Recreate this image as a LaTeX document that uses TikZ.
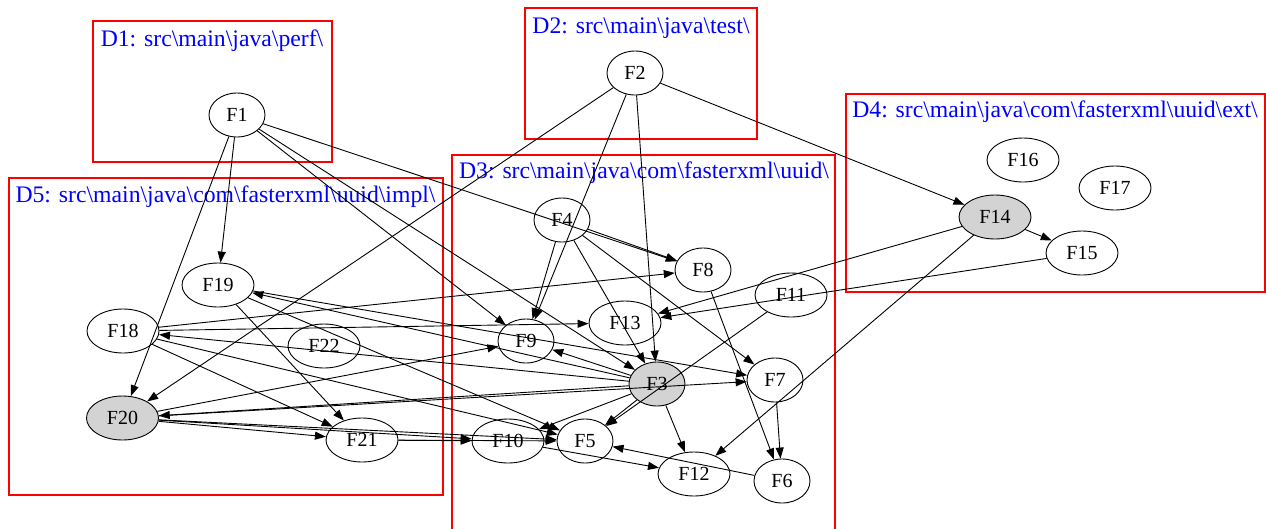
\documentclass[tikz,border=0pt]{standalone}
\usepackage{fontspec}
\setmainfont{Liberation Serif}
\usetikzlibrary{shapes.geometric,arrows.meta}
\definecolor{hubgray}{HTML}{D3D3D3}
\tikzset{
  file/.style={ellipse, draw, line width=0.9pt, inner sep=0pt, minimum height=44pt,
               font=\fontsize{20}{20}\selectfont},
  short/.style={file, minimum width=56pt},
  long/.style={file, minimum width=72pt},
  hub/.style={fill=hubgray},
  dirbox/.style={draw=red, line width=2pt},
  dirlabel/.style={text=blue, anchor=base, inner sep=0pt, font=\fontsize{23.7}{24}\selectfont},
  dep/.style={-{Triangle[length=11pt,width=8pt]}, line width=0.9pt}
}
\begin{document}
\begin{tikzpicture}[x=1pt,y=-1pt]
\useasboundingbox (0,0) rectangle (1266,528);

% directory boxes
\draw[dirbox] (92.7,21) rectangle (331.7,162);
\draw[dirbox] (525,8) rectangle (757,139);
\draw[dirbox] (452,154.5) rectangle (835,545);
\draw[dirbox] (845.5,94) rectangle (1265,292);
\draw[dirbox] (8.5,177.5) rectangle (442.5,494.5);

\node[dirlabel] (d1) at (212,46) {D1: src\textbackslash main\textbackslash java\textbackslash perf\textbackslash};
\node[dirlabel] (d2) at (641,33) {D2: src\textbackslash main\textbackslash java\textbackslash test\textbackslash};
\node[dirlabel] (d3) at (644,178) {D3: src\textbackslash main\textbackslash java\textbackslash com\textbackslash fasterxml\textbackslash uuid\textbackslash};
\node[dirlabel] (d4) at (1055,117) {D4: src\textbackslash main\textbackslash java\textbackslash com\textbackslash fasterxml\textbackslash uuid\textbackslash ext\textbackslash};
\node[dirlabel] (d5) at (225.5,202) {D5: src\textbackslash main\textbackslash java\textbackslash com\textbackslash fasterxml\textbackslash uuid\textbackslash impl\textbackslash};

% files
\node[short] (F1) at (237,115) {F1};
\node[short] (F2) at (635,73) {F2};
\node[short] (F4) at (562,220) {F4};
\node[short] (F8) at (703,270) {F8};
\node[long]  (F11) at (791,295) {F11};
\node[long]  (F13) at (625,323) {F13};
\node[short] (F9) at (526,341) {F9};
\node[short,hub] (F3) at (657,384) {F3};
\node[short] (F7) at (775,380) {F7};
\node[long]  (F10) at (508,441) {F10};
\node[short] (F5) at (585,441) {F5};
\node[long]  (F12) at (694,474) {F12};
\node[short] (F6) at (782,481) {F6};
\node[long,hub] (F14) at (995,217) {F14};
\node[long]  (F15) at (1082,253) {F15};
\node[long]  (F16) at (1023,160) {F16};
\node[long]  (F17) at (1115,188) {F17};
\node[long]  (F19) at (218,285) {F19};
\node[long]  (F18) at (123,331) {F18};
\node[long]  (F22) at (324,346) {F22};
\node[long,hub] (F20) at (122.5,418) {F20};
\node[long]  (F21) at (362,440) {F21};

% dependencies
\draw[dep] (F1) -- (F20);
\draw[dep] (F1) -- (F19);
\draw[dep] (F1) -- (F9);
\draw[dep] (F1) -- (F3);
\draw[dep] (F1) -- (F8);

\draw[dep] (F2) -- (F20);
\draw[dep] (F2) -- (F9);
\draw[dep] (F2) -- (F3);
\draw[dep] (F2) -- (F14);

\draw[dep] (F4) -- (F9);
\draw[dep] (F4) -- (F8);
\draw[dep] (F4) -- (F3);
\draw[dep] (F4) -- (F7);

\draw[dep] (F3) -- (F9);
\draw[dep] (F3) -- (F19);
\draw[dep] (F3) -- (F18);
\draw[dep] (F3) -- (F20);
\draw[dep] (F3) -- (F10);
\draw[dep] (F3) -- (F5);
\draw[dep] (F3) -- (F12);

\draw[dep] (F18) -- (F8);
\draw[dep] (F18) -- (F13);
\draw[dep] (F18) -- (F21);
\draw[dep] (F18) -- (F5);

\draw[dep] (F19) -- (F21);
\draw[dep] (F19) -- (F7);
\draw[dep] (F19) -- (F5);

\draw[dep] (F20) -- (F9);
\draw[dep] (F20) -- (F7);
\draw[dep] (F20) -- (F21);
\draw[dep] (F20) -- (F10);
\draw[dep] (F20) -- (F5);

\draw[dep] (F21) -- (F10);
\draw[dep] (F21) -- (F5);

\draw[dep] (F10) -- (F12);
\draw[dep] (F11) -- (F5);
\draw[dep] (F8) -- (F6);
\draw[dep] (F7) -- (F6);
\draw[dep] (F6) -- (F5);

\draw[dep] (F14) -- (F15);
\draw[dep] (F14) -- (F13);
\draw[dep] (F14) -- (F12);
\draw[dep] (F15) -- (F13);
\end{tikzpicture}
\end{document}
